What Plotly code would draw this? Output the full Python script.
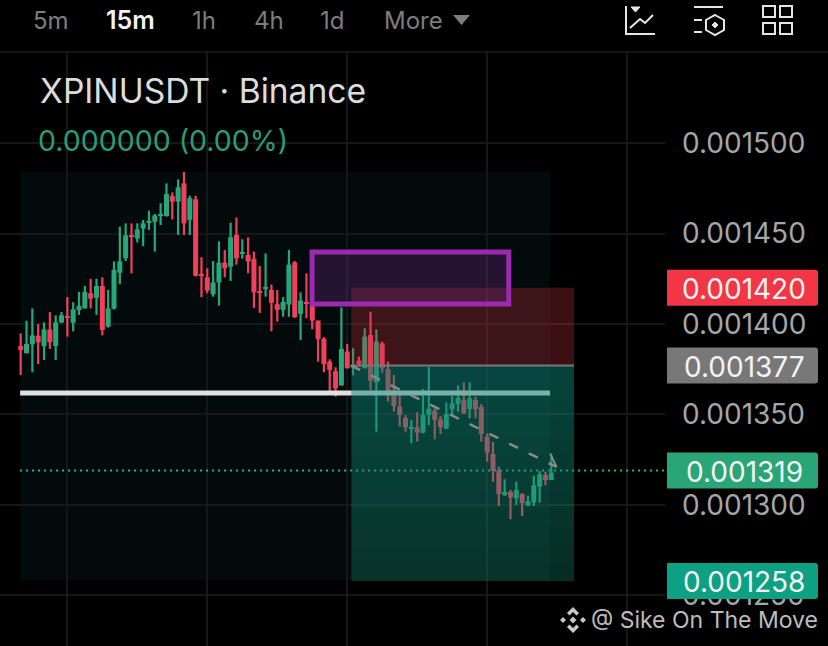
import plotly.graph_objects as go

W, H = 828, 646
# price candles in millionths of USDT: high, top of body, bottom of body, low, colour flag
highs = [1394.8,1401.8,1408.6,1400,1400.9,1406.6,1404.8,1406.6,1414.9,1412,1417.7,1421,1425,1425,1425.8,1418.8,1434.6,1453.8,1455.6,1455.6,1455.6,1457.5,1462.6,1460.8,1466.7,1477.7,1472.7,1479.9,1484,
 1470.9,1470.9,1436.9,1430.8,1434.8,1445.7,1440.9,1456,1458.8,1446.8,1447.9,1440,1432,1439,1421.8,1418.8,1414.8,1440.9,1434.7,1417.5,1428,1411,1401.9,1392.7,1380.5,1376.1,1409.2,1389,
 1386.6,1382,1397.6,1406.8,1397,1390.3,1379.2,1371.8,1360.8,1349.7,1347,1351.2,1364.1,1376.4,1353.4,1349.2,1356.7,1360.2,1366.1,1367.8,1367.8,1359.9,1355.8,1339.6,1334.8,1321.2,1314.2,1308.3,1312.9,1306.5,1305.2,1316.2,1318.8,1318.4,1327.6]
tops = [1387.8,1389,1393.7,1393.5,1397,1397,1400.9,1404.8,1404.4,1408.1,1410,1417.7,1417,1421,1421,1408.6,1429.8,1434.6,1449,1449,1452.3,1455.6,1457,1460,1460.4,1471.8,1470.7,1475.5,1477.7,
 1469.5,1468.9,1427.3,1425.8,1422.9,1433.9,1433.9,1447.9,1449.2,1439.5,1438.2,1436,1418.1,1420.3,1418.8,1410.9,1412.2,1432.8,1434.1,1412.9,1412.2,1410,1401.9,1391.9,1379.2,1373.9,1386.2,1384.8,
 1377.4,1379.8,1393,1393.9,1390.3,1389.3,1375,1363.5,1354.3,1348.1,1343.3,1342.9,1349.9,1353.2,1352.1,1347.3,1350.3,1356.2,1359.1,1358,1359,1358,1354.3,1337.8,1328.2,1319,1307.2,1307.2,1308.3,1306.1,1302,1311,1317,1316.6,1317.9]
bottoms = [1385.6,1383.8,1388.8,1389.9,1387.8,1389.9,1387.8,1400.9,1403.7,1400.7,1407.7,1408.6,1414,1414.5,1396.7,1398.5,1408.5,1428.3,1436.3,1448.2,1447.3,1452.7,1456,1456.5,1459.7,1459.7,1467.6,1467.6,1455.6,
 1457.5,1426.6,1426.6,1418.5,1416.4,1422.9,1430.8,1431.7,1436.3,1438.7,1434.5,1417.5,1417.4,1419.6,1411.8,1407.8,1407.8,1410.7,1403.7,1405.6,1411.5,1401.9,1391.6,1377.8,1374.6,1364.5,1366,1375.5,
 1376,1377.9,1375.5,1368.7,1367.6,1375.5,1362.6,1354.7,1349.7,1342.9,1342.4,1340,1340,1349.7,1347,1342.9,1342.2,1352.9,1355.8,1350.7,1352.9,1352.9,1339.2,1329,1319,1306.1,1305.4,1304.2,1303.7,1301,1299.6,1301.5,1310.1,1313.8,1313.8]
lows = [1371.8,1383.8,1373.3,1377.9,1380.1,1386.2,1380.1,1400.4,1393,1396,1405,1408.6,1408.6,1405,1393.7,1398,1408,1422,1434.8,1428,1445,1443,1452,1440,1454.7,1459.3,1457.8,1449.2,1449.2,
 1449.2,1426.2,1414.8,1417,1415.1,1410.2,1425.8,1423.8,1432.8,1436.1,1428,1408.9,1406.1,1415.1,1396,1401.3,1404,1404,1403.4,1391.2,1403.2,1397.1,1379.2,1373.3,1362.7,1359.9,1366,1375.5,
 1371.5,1376.4,1375.5,1363.5,1340.5,1373.1,1357.1,1351.6,1343.3,1340.5,1334.1,1335,1339.6,1344.2,1336.3,1339.2,1341.8,1349.9,1351.6,1350.3,1347.9,1347.9,1335,1324,1312.9,1299.5,1305,1292.1,1300,1293.9,1299.5,1299.5,1301.3,1311,1313.8]
up_flags = [0,1,1,0,1,0,1,1,0,1,1,1,0,1,0,1,1,1,1,0,1,1,1,1,1,1,0,1,0,
 1,0,0,0,1,1,0,1,0,1,0,0,0,1,0,0,1,1,0,1,0,0,0,0,0,0,1,0,
 1,0,1,0,1,0,0,0,0,0,1,0,1,1,0,0,1,1,1,0,1,0,0,0,0,0,1,0,1,0,1,1,1,0,1]
index = list(range(len(highs)))

price_ticks = [0.0015, 0.00145, 0.0014, 0.00135, 0.0013, 0.00125]
time_grid = [8, 32, 56, 80, 104]
timeframes = ["5m", "15m", "1h", "4h", "1d", "More"]
tf_x = [31, 104, 190, 252, 318, 382]
badges = [("0.001420", 0.00142, "#f23645"), ("0.001377", 0.001377, "#787878"),
          ("0.001319", 0.001319, "#2aa578"), ("0.001258", 0.001258, "#0ea082")]
support = 0.0013619
entry, stop, target, last = 0.001377, 0.00142, 0.001258, 0.001319
box_top, box_bottom = 0.0014398, 0.001411
path_x = [56.7, 91.9]
path_y = [0.001377, 0.001321]

GREEN, RED = "#27a87c", "#f2405c"
colors = [GREEN if u else RED for u in up_flags]
fig = go.Figure()
fig.add_bar(x=index, base=[v / 1e6 for v in lows], y=[(h - l) / 1e6 for h, l in zip(highs, lows)],
            width=0.38, marker=dict(color=colors, line=dict(width=0)), hoverinfo="skip")
fig.add_bar(x=index, base=[v / 1e6 for v in bottoms], y=[(t - b) / 1e6 for t, b in zip(tops, bottoms)],
            width=0.86, marker=dict(color=colors, line=dict(width=0)), hoverinfo="skip")

def X(p): return p / W
def Y(p): return 1 - p / H
def pth(points, close=False):
    s = "M" + " L".join(f"{X(a):.5f},{Y(b):.5f}" for a, b in points)
    return s + (" Z" if close else "")

shapes = []
def rect(x0, x1, y0, y1, fill, layer="above", line=None):
    shapes.append(dict(type="rect", xref="x", yref="y", x0=x0, x1=x1, y0=y0, y1=y1, fillcolor=fill,
                       line=line or dict(width=0), layer=layer))

rect(-0.1, 90.8, 0.0012586, 0.001484, "rgba(10,40,45,0.24)", layer="below")
shapes.append(dict(type="line", xref="x", yref="y", x0=-0.1, x1=90.8, y0=support, y1=support,
                   line=dict(color="#e0e0e0", width=5)))
shapes.append(dict(type="line", xref="x", yref="y", x0=-0.1, x1=110.5, y0=last, y1=last,
                   line=dict(color="#2fb58f", width=2, dash="2px,4px")))
rect(56.7, 94.9, entry, stop, "rgba(200,50,60,0.30)")
# gradient of the target zone: nested rectangles, so no seams show
rect(56.7, 94.9, target, entry, "rgba(20,140,112,0.32)")
steps = 12
for k in range(1, steps):
    y_end = entry + (target - entry) * k / steps
    rect(56.7, 94.9, y_end, entry, "rgba(20,140,112,0.03)")
shapes.append(dict(type="line", xref="x", yref="y", x0=56.7, x1=94.9, y0=entry, y1=entry,
                   line=dict(color="#787878", width=2)))
rect(49.97, 83.7, box_bottom, box_top, "rgba(110,40,130,0.32)", line=dict(color="#9a2bb0", width=5))
shapes.append(dict(type="line", xref="x", yref="y", x0=path_x[0], x1=path_x[1], y0=path_y[0], y1=path_y[1],
                   line=dict(color="#8a8a8a", width=2.5, dash="10px,12px")))
shapes.append(dict(type="line", xref="x", yref="y", x0=90.8, x1=91.9, y0=0.0013285, y1=0.001321,
                   line=dict(color="#8a8a8a", width=2)))

def pline(points, color="#e6e6e6", width=2, fill=None, close=False):
    shapes.append(dict(type="path", xref="paper", yref="paper", path=pth(points, close),
                       line=dict(color=color, width=width), fillcolor=fill or "rgba(0,0,0,0)"))

pline([(0, 52), (828, 52)], "#262626", 1)

annotations = []
def py(price): return 143 + (0.0015 - price) / 5.525e-7
for text, price, col in badges:
    c = py(price)
    t, b = c - 18, c + 18
    shapes.append(dict(type="path", xref="paper", yref="paper", fillcolor=col, line=dict(width=0),
        path=f"M{X(667)},{Y(t)} L{X(815)},{Y(t)} Q{X(818)},{Y(t)} {X(818)},{Y(t+3)} L{X(818)},{Y(b-3)} Q{X(818)},{Y(b)} {X(815)},{Y(b)} L{X(667)},{Y(b)} Z"))
    annotations.append(dict(x=X(744), y=Y(c + 1), text=text, xanchor="center", yanchor="middle", xref="paper", yref="paper",
                            showarrow=False, font=dict(family="Inter", size=28, color="#f4f4f4")))

def label(x, y, text, size, color, weight=400):
    annotations.append(dict(x=X(x), y=Y(y), xref="paper", yref="paper", text=text, xanchor="left", yanchor="middle",
                            showarrow=False, font=dict(family="Inter", size=size, color=color, weight=weight)))

for tf, tx in zip(timeframes, tf_x):
    on = tf == "15m"
    label(tx, 20, tf, 25 if on else 24, "#f2f2f2" if on else "#7d7d7d", 600 if on else 400)
pline([(453, 15), (470, 15), (461.5, 25)], "#7d7d7d", 0, "#7d7d7d", True)
label(38, 91, "XPINUSDT · Binance", 33.6, "#dcdcdc")
label(36, 140, "0.000000 (0.00%)", 28.5, "#2a9d78")
label(589, 620, "@ Sike On The Move", 23, "#bdbdbd")

pline([(626, 6), (626, 34), (655, 34)])
pline([(631, 7), (640, 7), (635.5, 12)], "#e6e6e6", 1, "#e6e6e6", True)
pline([(630, 28), (640, 19), (645, 23), (653, 15)])
pline([(694, 7), (723, 7)])
pline([(694, 20), (702, 20)])
pline([(694, 32), (702, 32)])
pline([(715, 15), (724, 20), (724, 30), (715, 35), (706, 30), (706, 20)], close=True)
pline([(715, 22), (718, 25), (715, 28), (712, 25)], "#e6e6e6", 1, "#e6e6e6", True)
for x0, y0, x1, y1 in [(763, 6, 775, 17), (780, 6, 792, 17), (763, 23, 775, 34), (780, 23, 792, 34)]:
    pline([(x0, y0), (x1, y0), (x1, y1), (x0, y1)], close=True)

LOGO = "#c8c8c8"
cx, cy = 573, 620
pline([(cx, cy-13), (cx+6, cy-7), (cx+3.5, cy-4.5), (cx, cy-8), (cx-3.5, cy-4.5), (cx-6, cy-7)], LOGO, 0, LOGO, True)
pline([(cx, cy+13), (cx+6, cy+7), (cx+3.5, cy+4.5), (cx, cy+8), (cx-3.5, cy+4.5), (cx-6, cy+7)], LOGO, 0, LOGO, True)
for dx in (-10, 10):
    pline([(cx+dx, cy-3), (cx+dx+3, cy), (cx+dx, cy+3), (cx+dx-3, cy)], LOGO, 0, LOGO, True)
pline([(cx, cy-3.5), (cx+3.5, cy), (cx, cy+3.5), (cx-3.5, cy)], LOGO, 0, LOGO, True)

y_top = 0.0015 + 91 * 5.525e-7
y_bot = 0.0015 - 503 * 5.525e-7
fig.update_layout(
    width=W, height=H, margin=dict(l=0, r=0, t=0, b=0), paper_bgcolor="#000000", plot_bgcolor="#000000",
    showlegend=False, shapes=shapes, annotations=annotations, barmode="overlay",
    xaxis=dict(domain=[0, 665 / W], range=[-3.55, 110.5], tickvals=time_grid, showticklabels=False,
               gridcolor="#171717", gridwidth=1.5, zeroline=False, showline=False, ticks=""),
    yaxis=dict(domain=[0, (H - 52) / H], range=[y_bot, y_top], side="right", tickvals=price_ticks, tickformat=".6f",
               gridcolor="#171717", gridwidth=1.5, zeroline=False, showline=False, ticks="",
               ticklabelstandoff=16, tickfont=dict(family="Inter", size=28, color="#a6a6a6")),
)
fig.write_html("out.html", config=dict(displayModeBar=False),
               post_script="document.body.style.margin='0';document.body.style.background='#000';")
